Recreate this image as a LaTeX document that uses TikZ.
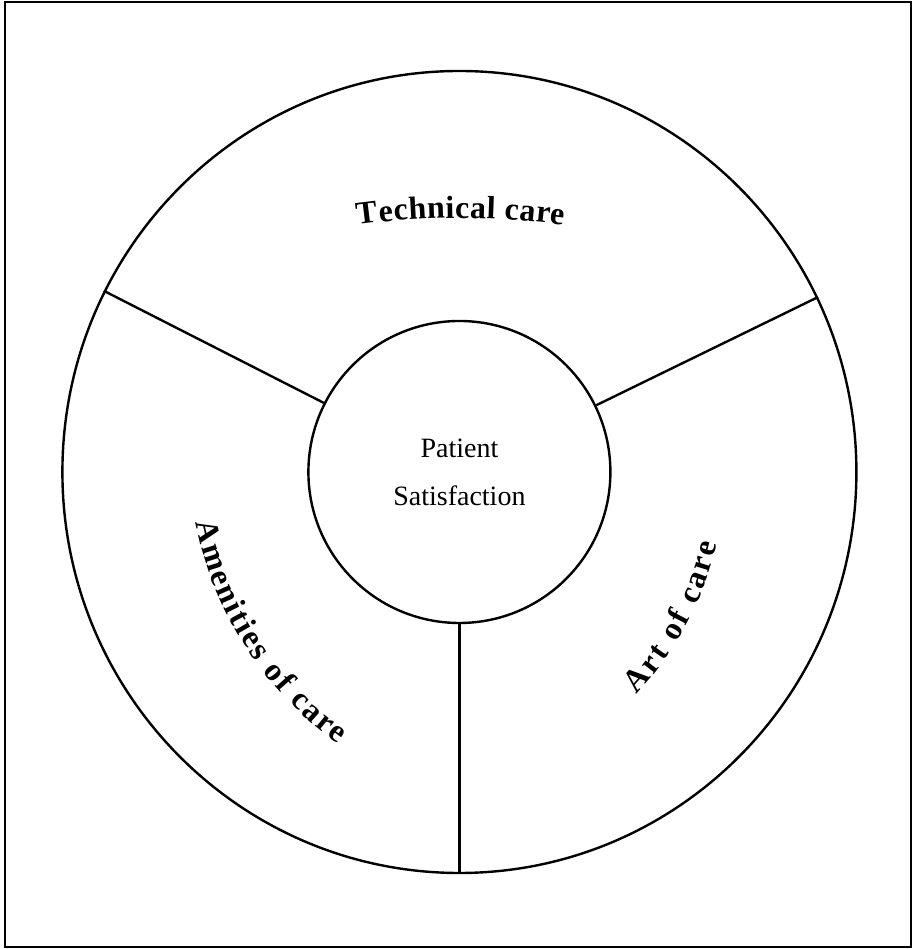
\documentclass[tikz,border=0pt]{standalone}
\usepackage{fontspec}
\setmainfont{Liberation Serif}
\usetikzlibrary{shapes.geometric,decorations.text}
\newcommand\arcfont{\fontsize{32pt}{36pt}\selectfont\bfseries}
\tikzset{
  ring/.style={draw, line width=2.4pt},
  divider/.style={draw, line width=2.4pt},
  arctext/.style={decorate, decoration={text along path, text align={fit to path}}},
}
\begin{document}
\begin{tikzpicture}[x=1pt,y=1pt]
\useasboundingbox (0,0) rectangle (915,949);
\draw[line width=2.8pt] (5,2) rectangle (911,947);
\coordinate (c) at (459.4,477);
\node[ring, ellipse, minimum width=794pt, minimum height=802pt, inner sep=0pt] (outer) at (c) {};
\node[ring, circle, minimum size=302pt, inner sep=0pt, align=center,
      font=\fontsize{28pt}{48pt}\selectfont] (inner) at (c) {Patient\\Satisfaction};
\draw[divider] (inner.153.5) -- (outer.153.5);
\draw[divider] (inner.26) -- (outer.26);
\draw[divider] (inner.270) -- (outer.270);
% curved labels
\path[arctext, decoration={text={|\arcfont|Technical care}}]
  (461,-30) ++(97.78:761pt) arc[start angle=97.78, end angle=82.22, radius=761pt];
\path[arctext, decoration={text={|\arcfont|Amenities of care}}]
  (545,495) ++(191.1:356pt) arc[start angle=191.1, end angle=234.5, radius=356pt];
\path[arctext, decoration={text={|\arcfont|Art of care}}]
  (394,481) ++(-43:332pt) arc[start angle=-43, end angle=-13.2, radius=332pt];
\end{tikzpicture}
\end{document}
